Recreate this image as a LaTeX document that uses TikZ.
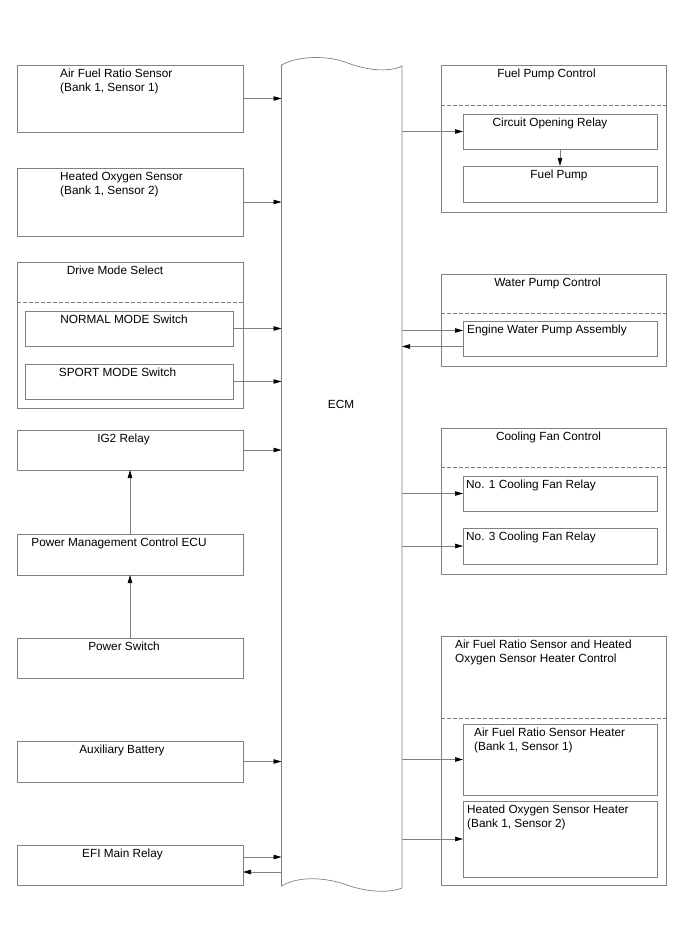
\documentclass[tikz,border=0pt]{standalone}
\usepackage{fontspec}
\setmainfont{Liberation Sans}
\usetikzlibrary{arrows.meta}
\definecolor{linegray}{RGB}{128,128,128}
\tikzset{
  blk/.style={draw=linegray, line width=0.7pt, inner sep=0pt, outer sep=0pt, anchor=north west},
  lbox/.style={blk, minimum width=226pt},
  libox/.style={blk, minimum width=208pt},
  rbox/.style={blk, minimum width=225pt},
  ribox/.style={blk, minimum width=194pt},
  lbl/.style={font=\fontsize{11.8}{14}\selectfont, inner sep=0pt, anchor=north, align=left},
  arr/.style={draw=linegray, line width=0.7pt, -{Triangle[length=8pt,width=4.5pt,color=black]}},
  divline/.style={draw=linegray, line width=0.7pt, dash pattern=on 4pt off 2pt}
}
\begin{document}
\begin{tikzpicture}[x=1pt,y=-1pt]
  \useasboundingbox (0,0) rectangle (688,949);

  % ECM
  \node[inner sep=0pt, outer sep=0pt, anchor=north west, minimum width=120.5pt, minimum height=821pt] (ecm) at (281.5,65) {};
  \draw[linegray, line width=0.7pt] (281.5,65) .. controls (300,55) and (328,56) .. (345,62)
    .. controls (365,70) and (388,73) .. (402,66) -- (402,888)
    .. controls (386,894) and (364,891) .. (347,885)
    .. controls (328,878) and (300,875) .. (281.5,886) -- cycle;
  \node[lbl, anchor=center] (ecmt) at (341,404) {ECM};

  % left column
  \node[lbox, minimum height=67pt] (afr) at (17,65) {};
  \node[lbl, anchor=north west] (afrt) at ([xshift=43pt,yshift=-4pt]afr.north west) {Air Fuel Ratio Sensor\\(Bank 1, Sensor 1)};
  \node[lbox, minimum height=68pt] (hos) at (17,168) {};
  \node[lbl, anchor=north west] (host) at ([xshift=43pt,yshift=-4pt]hos.north west) {Heated Oxygen Sensor\\(Bank 1, Sensor 2)};

  \node[lbox, minimum height=146pt] (dms) at (17,262) {};
  \node[lbl] (dmst) at ([xshift=-15pt,yshift=-4pt]dms.north) {Drive Mode Select};
  \draw[divline] ([yshift=-40pt]dms.north west) -- ([yshift=-40pt]dms.north east);
  \node[libox, minimum height=35pt] (nms) at (25,311) {};
  \node[lbl] (nmst) at ([xshift=-5pt,yshift=-4pt]nms.north) {NORMAL MODE Switch};
  \node[libox, minimum height=35pt] (sms) at (25,364) {};
  \node[lbl] (smst) at ([xshift=-11.5pt,yshift=-4pt]sms.north) {SPORT MODE Switch};

  \node[lbox, minimum height=40pt] (ig2) at (17,430) {};
  \node[lbl] (ig2t) at ([xshift=-6.5pt,yshift=-4pt]ig2.north) {IG2 Relay};
  \node[lbox, minimum height=41pt] (pmc) at (17,534) {};
  \node[lbl] (pmct) at ([xshift=-11pt,yshift=-4pt]pmc.north) {Power Management Control ECU};
  \node[lbox, minimum height=40pt] (psw) at (17,638) {};
  \node[lbl] (pswt) at ([xshift=-6pt,yshift=-4pt]psw.north) {Power Switch};
  \node[lbox, minimum height=41pt] (aux) at (17,741) {};
  \node[lbl] (auxt) at ([xshift=-8pt,yshift=-4pt]aux.north) {Auxiliary Battery};
  \node[lbox, minimum height=40pt] (efi) at (17,845) {};
  \node[lbl] (efit) at ([xshift=-7.5pt,yshift=-4pt]efi.north) {EFI Main Relay};

  % right column
  \node[rbox, minimum height=147pt] (fpc) at (441,65) {};
  \node[lbl] (fpct) at ([xshift=-7pt,yshift=-4pt]fpc.north) {Fuel Pump Control};
  \draw[divline] ([yshift=-40pt]fpc.north west) -- ([yshift=-40pt]fpc.north east);
  \node[ribox, minimum height=35pt] (cor) at (463,114) {};
  \node[lbl] (cort) at ([xshift=-10pt,yshift=-4pt]cor.north) {Circuit Opening Relay};
  \node[ribox, minimum height=36pt] (fp) at (463,166) {};
  \node[lbl] (fpt) at ([xshift=-1pt,yshift=-4pt]fp.north) {Fuel Pump};

  \node[rbox, minimum height=92pt] (wpc) at (441,274) {};
  \node[lbl] (wpct) at ([xshift=-6pt,yshift=-4pt]wpc.north) {Water Pump Control};
  \draw[divline] ([yshift=-39pt]wpc.north west) -- ([yshift=-39pt]wpc.north east);
  \node[ribox, minimum height=35pt] (ewp) at (463,321) {};
  \node[lbl, anchor=north west] (ewpt) at ([xshift=4pt,yshift=-4pt]ewp.north west) {Engine Water Pump Assembly};

  \node[rbox, minimum height=146pt] (cfc) at (441,428) {};
  \node[lbl] (cfct) at ([xshift=-5pt,yshift=-4pt]cfc.north) {Cooling Fan Control};
  \draw[divline] ([yshift=-39pt]cfc.north west) -- ([yshift=-39pt]cfc.north east);
  \node[ribox, minimum height=35pt] (cf1) at (463,476) {};
  \node[lbl, anchor=north west] (cf1t) at ([xshift=3pt,yshift=-4pt]cf1.north west) {No. 1 Cooling Fan Relay};
  \node[ribox, minimum height=36pt] (cf3) at (463,528) {};
  \node[lbl, anchor=north west] (cf3t) at ([xshift=3pt,yshift=-4pt]cf3.north west) {No. 3 Cooling Fan Relay};

  \node[rbox, minimum height=249pt] (htc) at (441,636) {};
  \node[lbl, anchor=north west] (htct) at ([xshift=14pt,yshift=-4pt]htc.north west) {Air Fuel Ratio Sensor and Heated\\Oxygen Sensor Heater Control};
  \draw[divline] ([yshift=-82pt]htc.north west) -- ([yshift=-82pt]htc.north east);
  \node[ribox, minimum height=71pt] (afh) at (463,724) {};
  \node[lbl, anchor=north west] (afht) at ([xshift=11pt,yshift=-4pt]afh.north west) {Air Fuel Ratio Sensor Heater\\(Bank 1, Sensor 1)};
  \node[ribox, minimum height=76pt] (hoh) at (463,801) {};
  \node[lbl, anchor=north west] (hoht) at ([xshift=4pt,yshift=-4pt]hoh.north west) {Heated Oxygen Sensor Heater\\(Bank 1, Sensor 2)};

  % inputs
  \draw[arr] (afr.east) -- (afr.east -| ecm.west);
  \draw[arr] (hos.east) -- (hos.east -| ecm.west);
  \draw[arr] (nms.east) -- (nms.east -| ecm.west);
  \draw[arr] (sms.east) -- (sms.east -| ecm.west);
  \draw[arr] (ig2.east) -- (ig2.east -| ecm.west);
  \draw[arr] (pmc.north) -- (ig2.south);
  \draw[arr] (psw.north) -- (pmc.south);
  \draw[arr] (aux.east) -- (aux.east -| ecm.west);
  \draw[arr] ([yshift=8pt]efi.east) -- ([yshift=8pt]efi.east -| ecm.west);
  \draw[arr] ([yshift=-7pt]efi.east -| ecm.west) -- ([yshift=-7pt]efi.east);

  % outputs
  \draw[arr] (ecm.east |- cor.west) -- (cor.west);
  \draw[arr] (cor.south) -- (fp.north);
  \draw[arr] ([yshift=8pt]ecm.east |- ewp.west) -- ([yshift=8pt]ewp.west);
  \draw[arr] ([yshift=-8pt]ewp.west) -- ([yshift=-8pt]ecm.east |- ewp.west);
  \draw[arr] (ecm.east |- cf1.west) -- (cf1.west);
  \draw[arr] (ecm.east |- cf3.west) -- (cf3.west);
  \draw[arr] (ecm.east |- afh.west) -- (afh.west);
  \draw[arr] (ecm.east |- hoh.west) -- (hoh.west);
\end{tikzpicture}
\end{document}
